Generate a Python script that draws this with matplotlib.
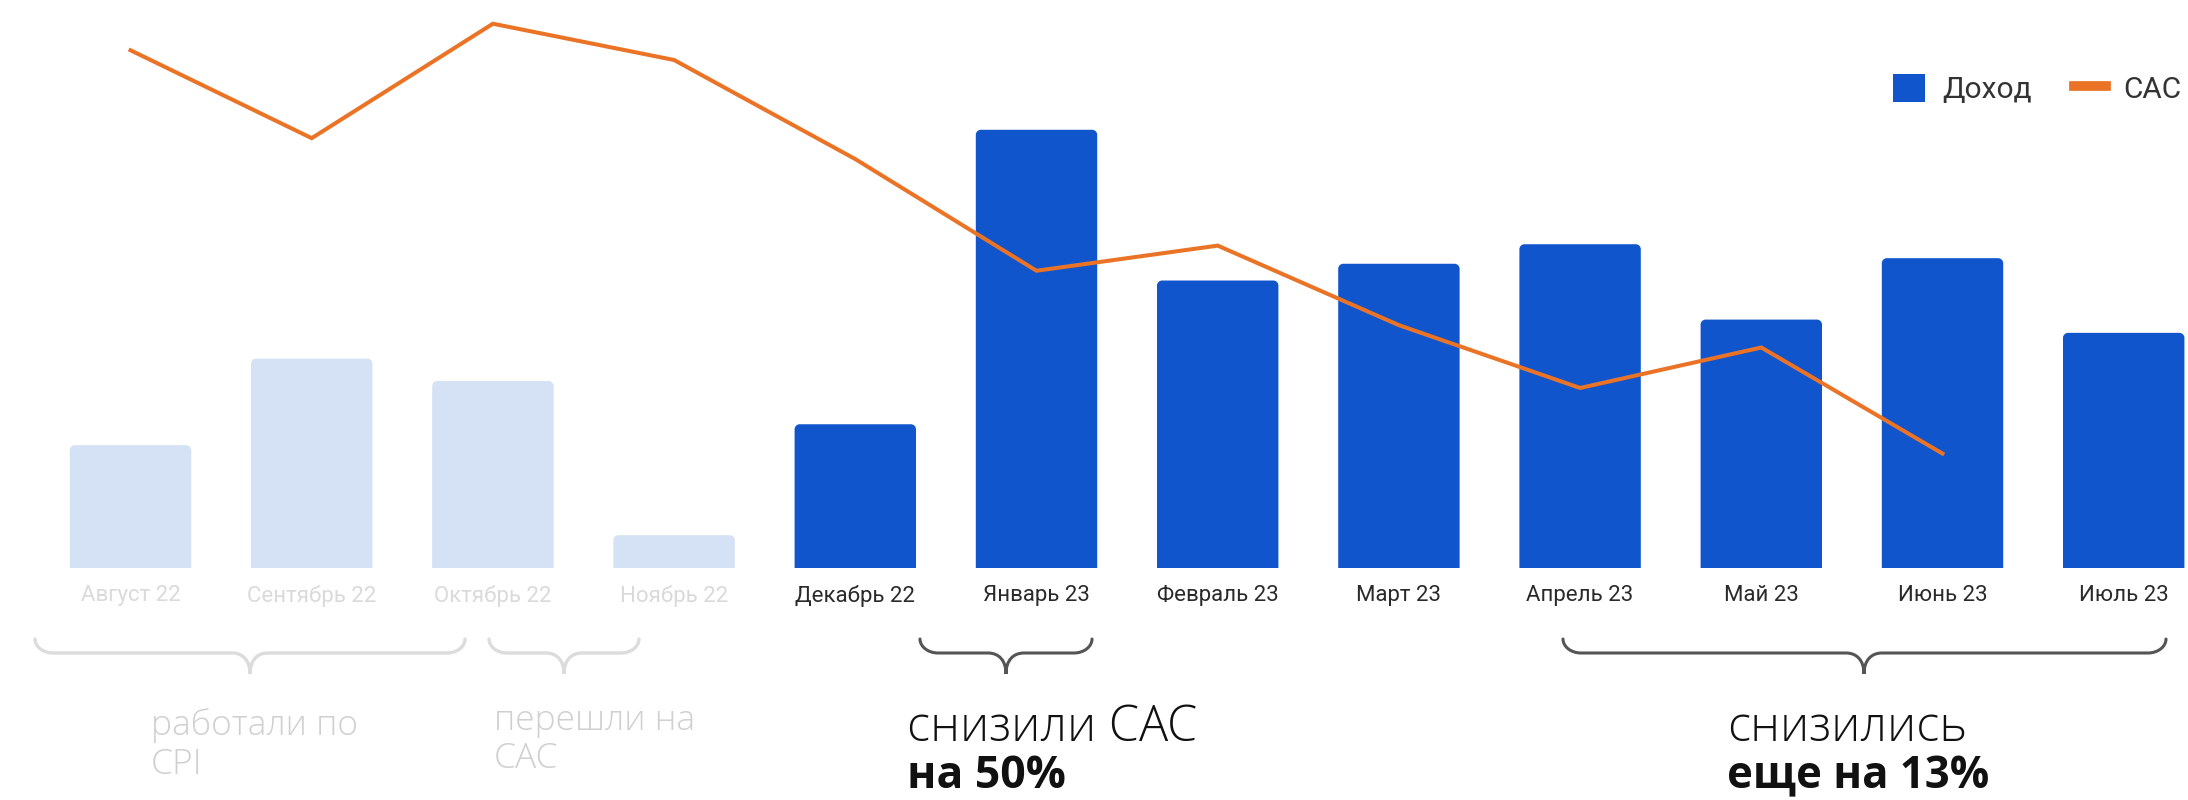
import matplotlib
matplotlib.use("Agg")
import matplotlib.pyplot as plt
import matplotlib.transforms as mtransforms
from matplotlib.path import Path
from matplotlib.patches import PathPatch, Patch
from matplotlib.lines import Line2D

# ---------------- data ----------------
months = ["Август 22", "Сентябрь 22", "Октябрь 22", "Ноябрь 22", "Декабрь 22",
          "Январь 23", "Февраль 23", "Март 23", "Апрель 23", "Май 23",
          "Июнь 23", "Июль 23"]
income = [88, 150, 134, 23.5, 103, 314, 206, 218, 232, 178, 222, 168.5]
cac = [371, 308, 390, 364, 293, 213, 231, 174, 129, 158, 82]
faded = [True, True, True, True, False, False, False, False, False, False, False, False]

legend_labels = ["Доход", "CAC"]

# ---------------- style ----------------
DARK_BAR = "#1155CC"
LIGHT_BAR = "#D5E1F4"
ORANGE = "#EA7325"
TICK_DARK = "#2A2A2A"
TICK_LIGHT = "#DADADA"
NOTE_LIGHT = "#D0D0D0"
BRACE_LIGHT = "#DCDCDC"
BRACE_DARK = "#555555"

W, H = 2188, 800
fig = plt.figure(figsize=(W / 100, H / 100), dpi=100)
fig.patch.set_facecolor("white")

ax_bottom = (H - 568) / H
ax = fig.add_axes([0, ax_bottom, 1, 1 - ax_bottom])
ax.set_facecolor("none")

x0px, step = 130.5, 181.2
ax.set_xlim(-x0px / step, (W - x0px) / step)
ax.set_ylim(0, 407)

x = list(range(len(months)))
bar_colors = [LIGHT_BAR if f else DARK_BAR for f in faded]
bars = ax.bar(x, income, width=0.67, color=bar_colors, zorder=1)

# rounded top corners: replace each rectangle by a single path
ypx_per_unit = 568 / 407
rx = 5 / step
ry = 5 / ypx_per_unit
k = 0.45
for rect in bars.patches:
    bx, by = rect.get_x(), rect.get_y()
    bw, bh = rect.get_width(), rect.get_height()
    top = by + bh
    rect.set_visible(False)
    verts = [(bx, by), (bx, top - ry),
             (bx, top - ry * k), (bx + rx * k, top), (bx + rx, top),
             (bx + bw - rx, top),
             (bx + bw - rx * k, top), (bx + bw, top - ry * k), (bx + bw, top - ry),
             (bx + bw, by), (bx, by)]
    codes = [Path.MOVETO, Path.LINETO,
             Path.CURVE4, Path.CURVE4, Path.CURVE4,
             Path.LINETO,
             Path.CURVE4, Path.CURVE4, Path.CURVE4,
             Path.LINETO, Path.CLOSEPOLY]
    ax.add_patch(PathPatch(Path(verts, codes), facecolor=rect.get_facecolor(),
                           edgecolor="none", zorder=1))

ax.plot(x[:len(cac)], cac, color=ORANGE, lw=2.9, zorder=3, solid_joinstyle="miter")

for s in ax.spines.values():
    s.set_visible(False)
ax.set_yticks([])
ax.set_xticks(x)
ax.set_xticklabels(months, fontfamily="Roboto", fontsize=16)
ax.tick_params(axis="x", length=0, pad=12)
for lab, f in zip(ax.get_xticklabels(), faded):
    lab.set_color(TICK_LIGHT if f else TICK_DARK)

# legend
handles = [Patch(facecolor=DARK_BAR, edgecolor="none"),
           Line2D([0], [0], color=ORANGE, lw=7)]
leg = fig.legend(handles, legend_labels, loc="center right",
                 bbox_to_anchor=(2181 / W, 1 - 89 / H), ncol=2, frameon=False,
                 prop={"family": "Roboto", "size": 21.5},
                 handlelength=1.07, handleheight=1.07, handletextpad=0.58,
                 columnspacing=1.4, borderpad=0, borderaxespad=0)
for t in leg.get_texts():
    t.set_color("#333333")

# braces
trans = mtransforms.blended_transform_factory(ax.transData, ax.transAxes)

def yfrac(ypx):
    return (568 - ypx) / 568

def px2x(px):
    return (px - x0px) / step

def brace(xl, xr, xt, color, lw):
    yt, ym, yb = yfrac(639), yfrac(653), yfrac(674)
    rxb = 18 / step
    rt = 18 / step
    kk = 0.45
    verts = [(xl, yt),
             (xl, ym + (yt - ym) * kk), (xl + rxb * kk, ym), (xl + rxb, ym),
             (xt - rt, ym),
             (xt - rt * 0.4, ym), (xt, ym - (ym - yb) * 0.35), (xt, yb),
             (xt, ym - (ym - yb) * 0.35), (xt + rt * 0.4, ym), (xt + rt, ym),
             (xr - rxb, ym),
             (xr - rxb * kk, ym), (xr, ym + (yt - ym) * kk), (xr, yt)]
    codes = [Path.MOVETO,
             Path.CURVE4, Path.CURVE4, Path.CURVE4,
             Path.LINETO,
             Path.CURVE4, Path.CURVE4, Path.CURVE4,
             Path.CURVE4, Path.CURVE4, Path.CURVE4,
             Path.LINETO,
             Path.CURVE4, Path.CURVE4, Path.CURVE4]
    p = PathPatch(Path(verts, codes), transform=trans, fill=False,
                  edgecolor=color, lw=lw, clip_on=False, capstyle="round")
    ax.add_patch(p)

brace(px2x(35), px2x(465), px2x(250), BRACE_LIGHT, 2.4)
brace(px2x(489), px2x(639), px2x(564), BRACE_LIGHT, 2.4)
brace(px2x(920), px2x(1092), px2x(1006), BRACE_DARK, 2.2)
brace(px2x(1563), px2x(2166), px2x(1864), BRACE_DARK, 2.2)

# annotations
def note(xpx, ypx, text, color, size, weight):
    ax.text(px2x(xpx), yfrac(ypx), text, transform=trans, color=color,
            fontsize=size, fontfamily="Open Sans", fontweight=weight,
            ha="left", va="baseline", clip_on=False)

note(151, 735, "работали по", NOTE_LIGHT, 25.5, "light")
note(151, 774, "CPI", NOTE_LIGHT, 25.5, "light")
note(494, 730, "перешли на", NOTE_LIGHT, 25.5, "light")
note(494, 768, "CAC", NOTE_LIGHT, 25.5, "light")
note(907, 741, "снизили CAC", "#111111", 35, "light")
note(907, 788, "на 50%", "#111111", 32, "bold")
note(1727, 741, "снизились", "#111111", 35, "light")
note(1727, 788, "еще на 13%", "#111111", 31.5, "bold")

fig.savefig("out.png", dpi=100, facecolor="white")
